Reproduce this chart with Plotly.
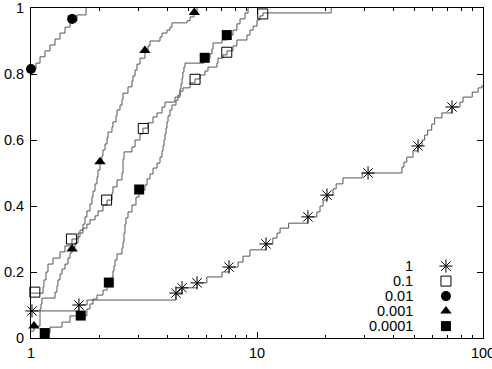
import plotly.graph_objects as go

# ---- series "1" (asterisk) ----
s1_x = [1.0, 1.63, 1.77, 4.38, 4.66, 5.43, 6.0, 7.0, 7.53, 8.25, 8.67, 9.31, 10.96, 11.75, 12.27,
        12.65, 13.8, 16.8, 18.4, 19.0, 19.6, 20.4, 21.7, 22.4, 24.0, 29.2, 43.8, 44.7, 46.0, 49.0,
        51.6, 53.8, 55.2, 56.9, 59.3, 61.1, 65.8, 72.9, 79.1, 81.6, 89.6, 95.1, 99.0]
s1_y = [0.082, 0.100, 0.115, 0.133, 0.152, 0.167, 0.185, 0.200, 0.215, 0.230, 0.248, 0.267, 0.285,
        0.303, 0.318, 0.333, 0.348, 0.367, 0.382, 0.400, 0.418, 0.433, 0.452, 0.467, 0.485, 0.500,
        0.518, 0.533, 0.548, 0.567, 0.582, 0.600, 0.615, 0.630, 0.648, 0.667, 0.682, 0.700, 0.715,
        0.730, 0.745, 0.758, 0.767]
s1_mx = [1.01, 1.63, 4.38, 4.66, 5.43, 7.52, 10.96, 16.8, 20.4, 31.0, 51.6, 72.9]
s1_my = [0.082, 0.100, 0.136, 0.152, 0.167, 0.215, 0.285, 0.367, 0.433, 0.500, 0.582, 0.700]

# ---- series "0.1" (open square) ----
s2_x = [1.0, 1.130, 1.141, 1.165, 1.189, 1.251, 1.344, 1.414, 1.518, 1.615, 1.698, 1.768, 1.824,
        1.920, 1.979, 2.082, 2.170, 2.282, 2.305, 2.402, 2.528, 2.554, 2.580, 2.798, 2.886, 3.037,
        3.131, 3.294, 3.468, 3.611, 3.799, 3.917, 4.337, 4.564, 4.704, 5.053, 5.318, 5.595, 5.888,
        6.07, 6.65, 6.72, 7.07, 7.37, 7.83, 8.15, 9.03, 9.31, 9.61, 10.0, 10.31, 10.63, 21.3]
s2_y = [0.136, 0.155, 0.176, 0.200, 0.224, 0.242, 0.261, 0.279, 0.300, 0.318, 0.333, 0.345, 0.358,
        0.370, 0.385, 0.403, 0.418, 0.439, 0.458, 0.479, 0.500, 0.542, 0.564, 0.579, 0.600, 0.618,
        0.636, 0.652, 0.670, 0.682, 0.700, 0.715, 0.730, 0.748, 0.758, 0.773, 0.785, 0.797, 0.809,
        0.821, 0.833, 0.848, 0.858, 0.870, 0.885, 0.903, 0.918, 0.933, 0.945, 0.964, 0.976, 0.985, 1.0]
s2_mx = [1.04, 1.51, 2.16, 3.14, 5.32, 7.35, 10.6]
s2_my = [0.139, 0.300, 0.418, 0.635, 0.784, 0.866, 0.982]

# ---- series "0.01" (circle) ----
s3_x = [1.0, 1.052, 1.096, 1.153, 1.214, 1.277, 1.344, 1.414, 1.488, 1.598, 1.752]
s3_y = [0.815, 0.833, 0.852, 0.870, 0.888, 0.906, 0.924, 0.942, 0.961, 0.979, 1.0]
s3_mx = [1.0, 1.52]
s3_my = [0.815, 0.967]

# ---- series "0.001" (triangle) ----
s4_x = [1.0, 1.031, 1.096, 1.096, 1.107, 1.118, 1.277, 1.303, 1.316, 1.344, 1.371, 1.414, 1.457,
        1.488, 1.518, 1.566, 1.615, 1.647, 1.698, 1.733, 1.768, 1.824, 1.861, 1.880, 1.920, 1.959,
        1.979, 2.020, 2.061, 2.082, 2.126, 2.170, 2.192, 2.282, 2.305, 2.378, 2.402, 2.477, 2.528,
        2.554, 2.687, 2.798, 2.826, 2.886, 2.945, 3.037, 3.195, 3.294, 3.362, 3.723, 3.799, 3.996,
        4.121, 4.205, 4.90, 5.053, 5.26, 5.43]
s4_y = [0.021, 0.036, 0.055, 0.088, 0.103, 0.121, 0.139, 0.158, 0.176, 0.194, 0.209, 0.224, 0.242,
        0.258, 0.273, 0.288, 0.306, 0.327, 0.345, 0.367, 0.385, 0.406, 0.427, 0.445, 0.467, 0.488,
        0.509, 0.533, 0.552, 0.570, 0.588, 0.606, 0.624, 0.639, 0.655, 0.673, 0.691, 0.706, 0.724,
        0.742, 0.761, 0.779, 0.794, 0.812, 0.830, 0.848, 0.867, 0.885, 0.900, 0.912, 0.924, 0.933,
        0.942, 0.955, 0.961, 0.973, 0.985, 1.0]
s4_mx = [1.031, 1.52, 2.02, 3.19, 5.28]
s4_my = [0.036, 0.270, 0.534, 0.871, 0.986]

# ---- series "0.0001" (filled square) ----
s5_x = [1.153, 1.214, 1.371, 1.488, 1.768, 1.824, 1.880, 1.959, 2.082, 2.170, 2.214, 2.282, 2.305,
        2.33, 2.354, 2.402, 2.528, 2.554, 2.580, 2.606, 2.632, 2.687, 2.798, 2.915, 3.007, 3.195,
        3.262, 3.362, 3.468, 3.611, 3.723, 3.799, 3.838, 3.877, 3.917, 3.957, 3.996, 4.04, 4.121,
        4.205, 4.38, 4.47, 4.564, 4.61, 4.66, 4.70, 4.75, 4.802, 5.83, 6.195, 6.32, 6.39, 7.0,
        7.37, 7.83, 8.15, 8.41, 8.85, 9.13]
s5_y = [0.015, 0.033, 0.048, 0.067, 0.088, 0.103, 0.118, 0.130, 0.145, 0.155, 0.167, 0.185, 0.203,
        0.218, 0.236, 0.255, 0.273, 0.291, 0.318, 0.345, 0.364, 0.382, 0.403, 0.427, 0.448, 0.464,
        0.482, 0.497, 0.515, 0.530, 0.548, 0.567, 0.582, 0.600, 0.618, 0.636, 0.655, 0.673, 0.691,
        0.706, 0.721, 0.736, 0.755, 0.770, 0.788, 0.806, 0.821, 0.833, 0.848, 0.861, 0.876, 0.894,
        0.903, 0.918, 0.933, 0.952, 0.967, 0.985, 1.0]
s5_mx = [1.15, 1.66, 2.21, 3.01, 5.87, 7.35]
s5_my = [0.015, 0.068, 0.168, 0.450, 0.849, 0.918]

labels = ["1", "0.1", "0.01", "0.001", "0.0001"]
x_ticks = [1, 10, 100]
x_minor = [2, 3, 4, 5, 6, 7, 8, 9, 20, 30, 40, 50, 60, 70, 80, 90]
y_ticks = [0, 0.2, 0.4, 0.6, 0.8, 1]
y_ticktext = ["0", "0.2", "0.4", "0.6", "0.8", "1"]

FONT = "Liberation Sans, Arial, Helvetica, sans-serif"
LINE_C = "#555555"

styles = [
    dict(symbol="asterisk-open", size=11, color="black", line=dict(color="black", width=1)),
    dict(symbol="square-open", size=10, color="black", line=dict(color="black", width=1)),
    dict(symbol="circle", size=10, color="black", line=dict(width=0)),
    dict(symbol="triangle-up", size=10, color="black", line=dict(width=0)),
    dict(symbol="square", size=10, color="black", line=dict(width=0)),
]

series = [
    (s1_x, s1_y, s1_mx, s1_my),
    (s2_x, s2_y, s2_mx, s2_my),
    (s3_x, s3_y, s3_mx, s3_my),
    (s4_x, s4_y, s4_mx, s4_my),
    (s5_x, s5_y, s5_mx, s5_my),
]

fig = go.Figure()
for (xs, ys, mx, my), st, name in zip(series, styles, labels):
    fig.add_trace(go.Scatter(x=xs, y=ys, mode="lines", name=name,
                             line=dict(shape="hv", color=LINE_C, width=1),
                             showlegend=False, hoverinfo="skip"))
for (xs, ys, mx, my), st, name in zip(series, styles, labels):
    fig.add_trace(go.Scatter(x=mx, y=my, mode="markers", name=name,
                             marker=st, showlegend=False, cliponaxis=False))

# custom legend (text right-aligned, key symbol on the right) on a hidden overlay axis
leg_key_x = 0.918
leg_text_x = 0.850
leg_top = 0.218
leg_step = 0.0455
for i, (st, name) in enumerate(zip(styles, labels)):
    yy = leg_top - i * leg_step
    fig.add_trace(go.Scatter(x=[leg_key_x], y=[yy], mode="markers", marker=st,
                             xaxis="x2", yaxis="y2", showlegend=False, hoverinfo="skip"))
    fig.add_annotation(x=leg_text_x, y=yy, xref="x2", yref="y2", text=name,
                       showarrow=False, xanchor="right", yanchor="middle",
                       font=dict(family=FONT, size=14.5, color="black"))

axis_common = dict(showgrid=False, zeroline=False, showline=True, linecolor="black",
                   linewidth=1, mirror="ticks", ticks="inside", ticklen=6,
                   tickcolor="black", tickwidth=1, ticklabeloverflow="allow",
                   tickfont=dict(family=FONT, size=14.5, color="black"))

fig.update_layout(
    width=492, height=369,
    margin=dict(l=31, r=9, t=8, b=31),
    paper_bgcolor="white", plot_bgcolor="white",
    showlegend=False,
    xaxis=dict(type="log", range=[0, 2], tickvals=x_ticks, ticktext=[str(v) for v in x_ticks],
               minor=dict(tickvals=x_minor, ticks="inside", ticklen=3, tickcolor="black",
                          showgrid=False),
               automargin=False, ticklabelstandoff=2, **axis_common),
    yaxis=dict(range=[0, 1], tickvals=y_ticks, ticktext=y_ticktext, automargin=False,
               ticklabelstandoff=3, **axis_common),
    xaxis2=dict(range=[0, 1], overlaying="x", visible=False, anchor="y2"),
    yaxis2=dict(range=[0, 1], overlaying="y", visible=False, anchor="x2"),
)

fig.write_html("out.html")
